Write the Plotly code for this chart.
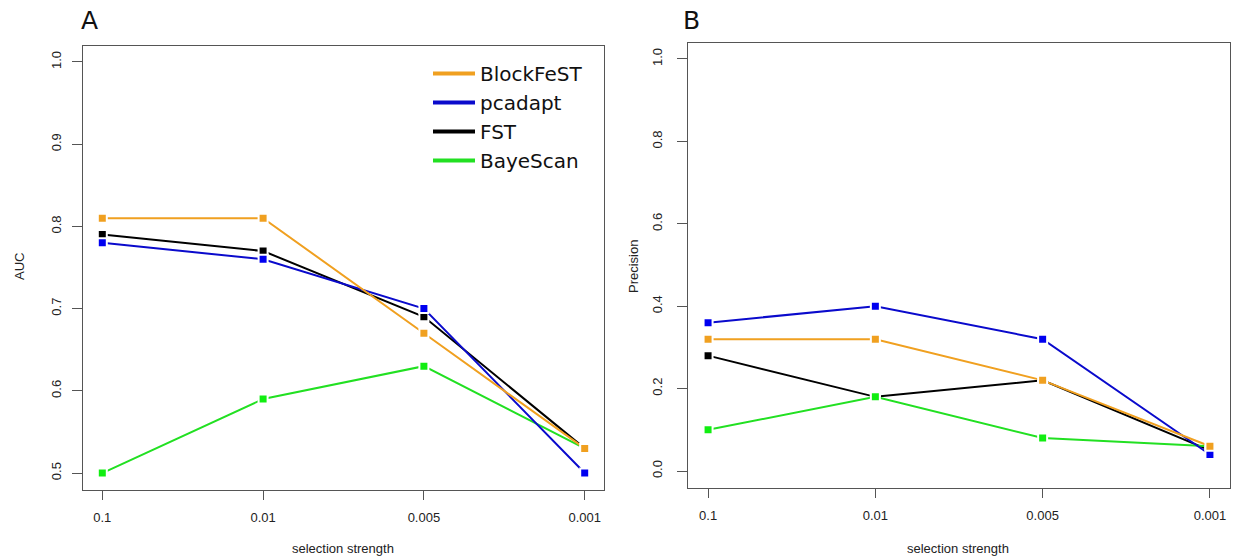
import plotly.graph_objects as go

categories = ["0.1", "0.01", "0.005", "0.001"]

methods = ["BlockFeST", "pcadapt", "FST", "BayeScan"]
colors = {"BlockFeST": "#F0A020", "pcadapt": "#0A0ACC", "FST": "#000000", "BayeScan": "#22E022"}
marker_colors = {"BlockFeST": "#F0A020", "pcadapt": "#0000F0", "FST": "#000000", "BayeScan": "#11EE11"}

auc_blockfest = [0.81, 0.81, 0.67, 0.53]
auc_pcadapt = [0.78, 0.76, 0.70, 0.50]
auc_fst = [0.79, 0.77, 0.69, 0.53]
auc_bayescan = [0.50, 0.59, 0.63, 0.53]

prec_blockfest = [0.32, 0.32, 0.22, 0.06]
prec_pcadapt = [0.36, 0.40, 0.32, 0.04]
prec_fst = [0.28, 0.18, 0.22, 0.05]
prec_bayescan = [0.10, 0.18, 0.08, 0.06]

auc = {"BlockFeST": auc_blockfest, "pcadapt": auc_pcadapt, "FST": auc_fst, "BayeScan": auc_bayescan}
prec = {"BlockFeST": prec_blockfest, "pcadapt": prec_pcadapt, "FST": prec_fst, "BayeScan": prec_bayescan}

draw_order = ["FST", "BayeScan", "pcadapt", "BlockFeST"]

W, H = 1234, 560

fig = go.Figure()

for panel, data, xa, ya in [("A", auc, "x", "y"), ("B", prec, "x2", "y2")]:
    for m in draw_order:
        fig.add_trace(go.Scatter(
            x=categories, y=data[m], xaxis=xa, yaxis=ya,
            mode="lines+markers", showlegend=False, cliponaxis=False,
            line=dict(color=colors[m], width=2),
            marker=dict(symbol="square", size=9, color=marker_colors[m],
                        line=dict(color="white", width=2)),
        ))

# legend-only traces
for i, m in enumerate(methods):
    fig.add_trace(go.Scatter(
        x=[None], y=[None], xaxis="x", yaxis="y", mode="lines", name=m,
        line=dict(color=colors[m], width=4), legendrank=i + 1,
    ))

def px_x(p):
    return p / W

def px_y(p):
    return 1 - p / H

tickfont = dict(family="Liberation Sans, Arial, sans-serif", size=13, color="#222222")
common_x = dict(type="category", range=[-0.12, 3.12], showline=True, mirror=True,
                linecolor="#555555", linewidth=1, ticks="outside", ticklen=9,
                tickcolor="#555555", showgrid=False, zeroline=False, tickfont=tickfont,
                categoryorder="array", categoryarray=categories, fixedrange=True,
                ticklabelstandoff=7)
common_y = dict(showline=True, mirror=True, linecolor="#555555", linewidth=1,
                ticks="outside", ticklen=10, tickcolor="#555555", showgrid=False,
                zeroline=False, tickfont=tickfont, tickangle=-90, fixedrange=True)

fig.update_layout(
    width=W, height=H,
    margin=dict(l=0, r=0, t=0, b=0),
    paper_bgcolor="white", plot_bgcolor="white",
    xaxis=dict(domain=[px_x(83), px_x(604)], anchor="y", **common_x),
    yaxis=dict(domain=[px_y(489.5), px_y(45.5)], anchor="x", range=[0.48, 1.02],
               tickvals=[0.5, 0.6, 0.7, 0.8, 0.9, 1.0], ticktext=["0.5", "0.6", "0.7", "0.8", "0.9", "1.0"],
               ticklabelstandoff=6, **common_y),
    xaxis2=dict(domain=[px_x(688), px_x(1230)], anchor="y2", **common_x),
    yaxis2=dict(domain=[px_y(487.5), px_y(42.5)], anchor="x2", range=[-0.04, 1.04],
                tickvals=[0.0, 0.2, 0.4, 0.6, 0.8, 1.0], ticktext=["0.0", "0.2", "0.4", "0.6", "0.8", "1.0"],
                ticklabelstandoff=10, **common_y),
    legend=dict(x=px_x(428), y=px_y(54), xanchor="left", yanchor="top",
                bgcolor="rgba(0,0,0,0)", borderwidth=0,
                font=dict(family="DejaVu Sans", size=20, color="#111111"),
                itemwidth=42, tracegroupgap=0),
    showlegend=True,
)

annot_font = dict(family="Liberation Sans, Arial, sans-serif", size=13, color="#222222")
label_font = dict(family="DejaVu Sans", size=25, color="#111111")
annots = [
    dict(text="A", x=px_x(90), y=px_y(21), font=label_font),
    dict(text="B", x=px_x(691), y=px_y(21), font=label_font),
    dict(text="AUC", x=px_x(19), y=px_y(267), font=annot_font, textangle=-90),
    dict(text="Precision", x=px_x(633), y=px_y(267), font=annot_font, textangle=-90),
    dict(text="selection strength", x=px_x(343), y=px_y(548), font=annot_font),
    dict(text="selection strength", x=px_x(958), y=px_y(548), font=annot_font),
]
for a in annots:
    fig.add_annotation(xref="paper", yref="paper", showarrow=False,
                       xanchor="center", yanchor="middle", **a)

fig.write_html("out.html")
